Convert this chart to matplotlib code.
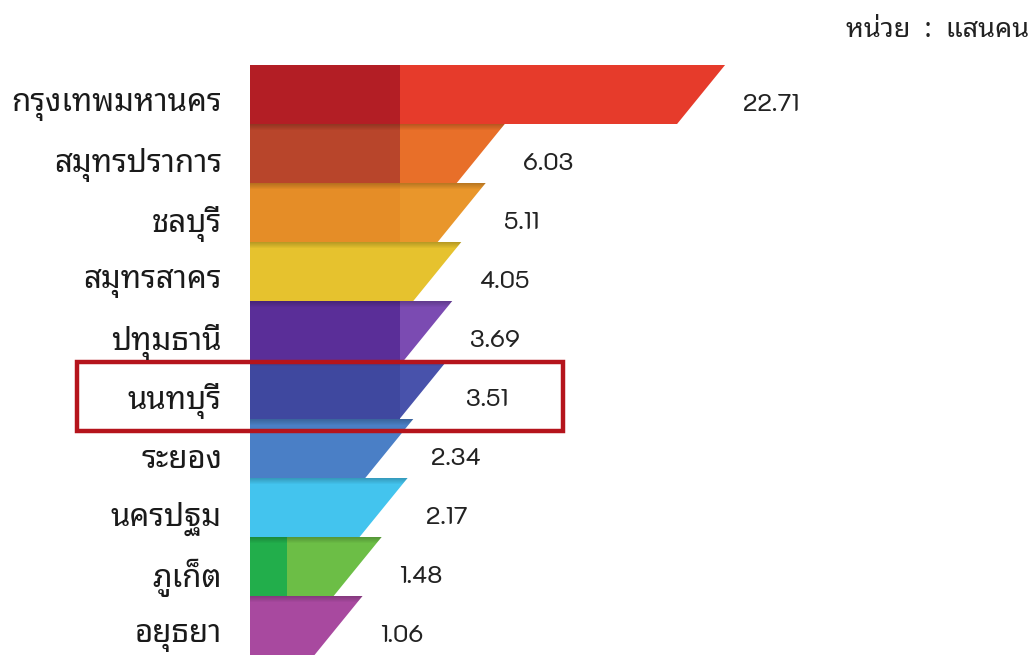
import numpy as np
import matplotlib
matplotlib.use("Agg")
import matplotlib.pyplot as plt
from matplotlib import transforms
from matplotlib.patches import Polygon, Rectangle

# จังหวัดที่มีประชากรแฝงมากที่สุด (หน่วย: แสนคน)
provinces = ["กรุงเทพมหานคร", "สมุทรปราการ", "ชลบุรี", "สมุทรสาคร", "ปทุมธานี",
             "นนทบุรี", "ระยอง", "นครปฐม", "ภูเก็ต", "อยุธยา"]
values = [22.71, 6.03, 5.11, 4.05, 3.69, 3.51, 2.34, 2.17, 1.48, 1.06]
highlight = "นนทบุรี"

# (dark part, light part) colours per bar
dark_colors = ["#b31e25", "#b8452b", "#e58d27", "#e4bf2c", "#5a2e98",
               "#3f489f", "#4a7ec4", "#40c2ec", "#22ae4b", "#a6479d"]
light_colors = ["#e63b2b", "#e86f29", "#e9962b", "#e6c22e", "#7b4bb2",
                "#4852ab", "#4a7fc6", "#43c4ee", "#6cbe46", "#a8499f"]
split_px = [150, 150, 150, 0, 150, 150, 0, 0, 37, 0]

THAI = ["Noto Sans Thai Looped", "DejaVu Sans"]
NUM = ["K2D", "DejaVu Sans"]

W, H = 1033, 662
fig = plt.figure(figsize=(W / 100, H / 100), dpi=100)
ax = fig.add_axes([250 / W, 7 / H, 750 / W, 590 / H])

# compressed value axis so the small provinces stay readable
p = 0.47
fwd = lambda x: np.power(np.clip(x, 0, None), p)
inv = lambda x: np.power(np.clip(x, 0, None), 1 / p)
ax.set_xscale("function", functions=(fwd, inv))
ax.set_xlim(0, 60)
ax.set_ylim(len(values) - 0.5, -0.5)
ax.axis("off")

axw = ax.get_position().width * W
to_axes = ax.transData + ax.transAxes.inverted()
blend = transforms.blended_transform_factory(ax.transAxes, ax.transData)
fig_rows = transforms.blended_transform_factory(fig.transFigure, ax.transData)
slant = 48 / axw

for i, (name, v) in enumerate(zip(provinces, values)):
    xr = to_axes.transform((v, 0))[0]
    top, bot = i - 0.5, i + 0.5
    sx = split_px[i] / axw
    full = Polygon([(0, top), (xr, top), (xr - slant, bot), (0, bot)],
                   closed=True, transform=blend, facecolor=light_colors[i],
                   edgecolor="none", zorder=2)
    ax.add_patch(full)
    if sx > 0:
        dark = Rectangle((0, top), sx, 1, transform=blend,
                         facecolor=dark_colors[i], edgecolor="none", zorder=3)
        ax.add_patch(dark)
    # soft shadow under the bar above
    if i > 0:
        for k in range(6):
            sh = Rectangle((0, top + k * 0.017), 1, 0.017, transform=blend,
                           facecolor="black", alpha=0.2 * (1 - k / 6),
                           edgecolor="none", zorder=4)
            ax.add_patch(sh)
            sh.set_clip_path(full)
    ax.text(xr + 18 / axw, i + 0.17, f"{v:.2f}", transform=blend,
            ha="left", va="center", fontsize=17, color="#222222", family=NUM)
    fig.text(222 / W, i + 0.2, name, transform=fig_rows, ha="right", va="center",
             fontsize=22.5, fontweight="semibold", color="#1a1a1a", family=THAI)

# frame around the highlighted province
hi = provinces.index(highlight)
ax.add_patch(Rectangle((77 / W, hi - 0.47), 486 / W, 1.17, fill=False,
                       edgecolor="#b5141c", linewidth=3.2, zorder=6,
                       clip_on=False, transform=fig_rows))

fig.text(1029 / W, 1 - 30 / H, "หน่วย  :  แสนคน", ha="right", va="center",
         fontsize=19.5, fontweight="bold", color="#222222", family=THAI)

fig.savefig("out.png", dpi=100)
